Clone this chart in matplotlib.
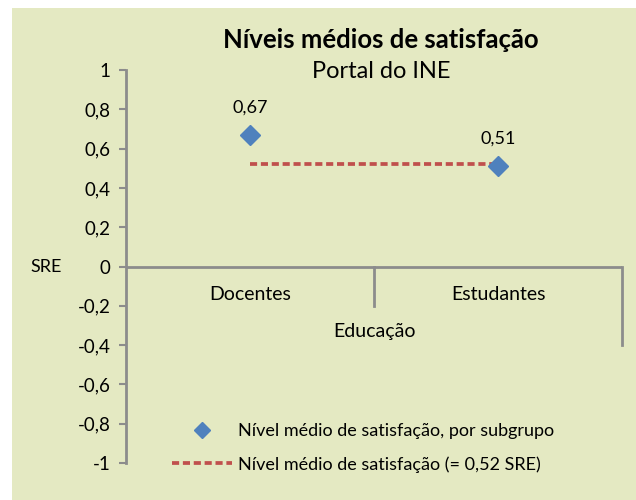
import matplotlib

matplotlib.use("Agg")
import matplotlib.pyplot as plt
from matplotlib.patches import Rectangle
from matplotlib.lines import Line2D
from matplotlib.ticker import FuncFormatter

# data
categories = ["Docentes", "Estudantes"]
group_label = "Educação"
subgroup_levels = [0.67, 0.51]
overall_level = 0.52
y_ticks = [-1, -0.8, -0.6, -0.4, -0.2, 0, 0.2, 0.4, 0.6, 0.8, 1]

title = "Níveis médios de satisfação"
subtitle = "Portal do INE"
legend_points = "Nível médio de satisfação, por subgrupo"
legend_line = "Nível médio de satisfação (= 0,52 SRE)"

plt.rcParams["font.family"] = ["Lato", "DejaVu Sans"]

bg = "#E4E9C2"
axis_grey = "#8C8C8C"
blue = "#4F81BD"
red = "#C0504D"

fig = plt.figure(figsize=(6.36, 5.0), dpi=100)
fig.patch.set_facecolor("white")
fig.patches.append(Rectangle((12 / 636, 0), 1, 1 - 8 / 500, transform=fig.transFigure,
                             facecolor=bg, edgecolor="none", zorder=-10))

ax = fig.add_axes([126 / 636, 37 / 500, 496 / 636, 393 / 500])
ax.set_facecolor("none")
ax.set_xlim(-0.5, 1.5)
ax.set_ylim(-1, 1)

x = list(range(len(categories)))

# dashed mean line and subgroup points
ax.plot(x, [overall_level] * len(x), color=red, lw=2.7, dashes=(1.9, 1.0), zorder=2)
ax.plot(x, subgroup_levels, linestyle="none", marker="D", markersize=10,
        color=blue, zorder=3)
for xi, v in zip(x, subgroup_levels):
    ax.annotate(f"{v:.2f}".replace(".", ","), (xi, v), xytext=(0, 14),
                textcoords="offset points", ha="center", va="bottom", fontsize=13)

# axes styling
for s in ["top", "right", "bottom"]:
    ax.spines[s].set_visible(False)
ax.spines["left"].set_color(axis_grey)
ax.spines["left"].set_linewidth(2)
ax.axhline(0, color=axis_grey, lw=2, zorder=1)
ax.plot([0.5, 0.5], [0, -0.2], color=axis_grey, lw=2)
ax.plot([1.5, 1.5], [0, -0.4], color=axis_grey, lw=2, clip_on=False)

ax.set_xticks([])
ax.set_yticks(y_ticks)
ax.yaxis.set_major_formatter(FuncFormatter(
    lambda v, p: "0" if abs(v) < 1e-9 else (f"{v:g}".replace(".", ","))))
ax.tick_params(axis="y", colors=axis_grey, labelcolor="black", length=5, width=1.5,
               labelsize=13.5, pad=6)

for xi, c in zip(x, categories):
    ax.text(xi, -0.14, c, ha="center", va="center", fontsize=14)
ax.text(0.5, -0.33, group_label, ha="center", va="center", fontsize=14)
ax.text(-0.5 - 80 / 248, 0, "SRE", ha="center", va="center", fontsize=13)

# titles
fig.text(381 / 636, 1 - 40 / 500, title, ha="center", va="center",
         fontsize=18.5, fontweight="bold")
fig.text(381 / 636, 1 - 72 / 500, subtitle, ha="center", va="center", fontsize=17)

# legend
handles = [
    Line2D([], [], linestyle="none", marker="D", markersize=8, color=blue),
    Line2D([], [], color=red, lw=2.7, dashes=(1.9, 1.0)),
]
fig.legend(handles, [legend_points, legend_line], loc="upper left",
           bbox_to_anchor=(172 / 636, 1 - 423 / 500), frameon=False,
           fontsize=13, handlelength=60 / 18, handletextpad=0.3, labelspacing=0.95,
           borderpad=0, borderaxespad=0)

fig.savefig("out.png", dpi=100, facecolor=fig.get_facecolor())
